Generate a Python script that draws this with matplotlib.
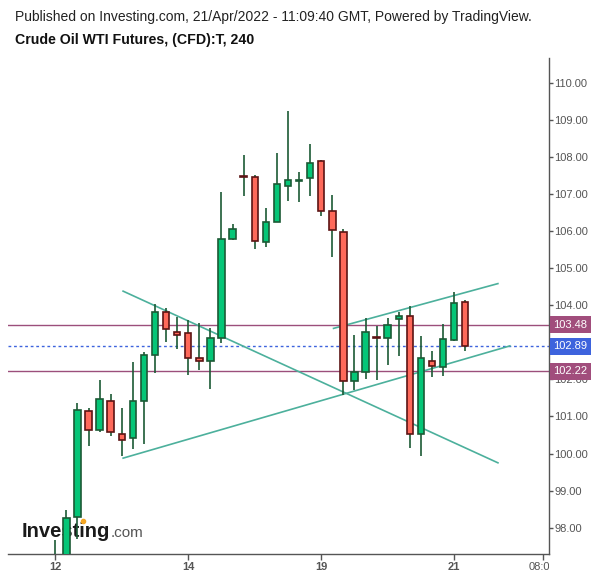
import matplotlib
matplotlib.use("Agg")
import matplotlib.pyplot as plt
from matplotlib.patches import Rectangle
from matplotlib.transforms import Bbox, TransformedBbox, blended_transform_factory

plt.rcParams['font.family'] = ['Liberation Sans', 'DejaVu Sans']

# ---------------- data ----------------
opens  = [97.25, 96.95, 98.28, 101.14, 100.63, 101.41, 100.54, 100.41, 101.43, 102.65,
          103.83, 103.27, 103.24, 102.59, 102.49, 103.11, 105.78, 107.48, 107.45, 105.70,
          106.24, 107.23, 107.36, 107.42, 107.88, 106.53, 105.97, 101.97, 102.19, 103.15,
          103.13, 103.62, 103.70, 100.54, 102.49, 102.34, 103.05, 104.08]
highs  = [97.67, 98.48, 101.35, 101.22, 101.98, 101.60, 101.23, 102.47, 102.73, 104.03,
          103.92, 103.69, 103.60, 103.51, 103.38, 107.05, 106.19, 108.05, 107.51, 106.62,
          108.10, 109.24, 107.59, 108.35, 107.93, 106.97, 106.05, 103.20, 103.65, 103.43,
          103.65, 103.81, 103.97, 103.16, 102.76, 103.49, 104.35, 104.13]
lows   = [96.90, 96.80, 97.69, 100.21, 100.59, 100.48, 99.93, 100.11, 100.25, 102.16,
          103.02, 102.81, 102.13, 102.25, 101.73, 102.97, 105.75, 106.95, 105.51, 105.58,
          106.24, 106.82, 106.79, 106.95, 106.41, 105.31, 101.59, 101.71, 102.02, 101.99,
          102.39, 102.64, 100.16, 99.94, 102.07, 102.10, 103.03, 102.77]
closes = [97.10, 98.25, 101.17, 100.63, 101.46, 100.57, 100.36, 101.41, 102.65, 103.81,
          103.35, 103.21, 102.57, 102.49, 103.13, 105.80, 106.07, 107.46, 105.72, 106.24,
          107.26, 107.39, 107.38, 107.83, 106.53, 106.02, 101.97, 102.19, 103.27, 103.13,
          103.46, 103.70, 100.52, 102.57, 102.37, 103.08, 104.05, 102.89]

level_upper = 103.48
level_lower = 102.22
last_price = 102.89

# trend lines: (x0, p0, x1, p1) in candle index / price
trend_down = (6.05, 104.39, 40.02, 99.74)
trend_up_low = (6.05, 99.87, 41.1, 102.91)
trend_up_high = (25.04, 103.37, 40.02, 104.59)

price_ticks = [98, 99, 100, 101, 102, 103, 104, 105, 106, 107, 108, 109, 110]
date_tick_pos = [0, 12, 24, 36]
date_tick_labels = ["12", "14", "19", "21"]
time_tick_pos = [44]
time_tick_labels = ["08:00"]

# ---------------- styling ----------------
GREEN = '#05c677'
RED = '#fe695a'
GREEN_EDGE = '#1b5a35'
RED_EDGE = '#5c1414'
WICK = '#1b5a35'
LEVEL_C = '#9c4f7b'
LEVEL_BOX = '#a14d7c'
BLUE = '#3d63dd'
TREND = '#4cb09c'
AXC = '#555555'

W, H = 600, 578
fig = plt.figure(figsize=(W / 100, H / 100), dpi=100)
ax = fig.add_axes([8 / W, 24 / H, 541 / W, 496 / H])
ax.set_xlim(-4.27, 44.56)
ax.set_ylim(97.29, 110.67)

for s in ['left', 'top']:
    ax.spines[s].set_visible(False)
for s in ['bottom', 'right']:
    ax.spines[s].set_color(AXC)
    ax.spines[s].set_linewidth(1.0)

# logo (under candles)
ax.text(0.025, 0.035, "Investing", transform=ax.transAxes, fontsize=14.5,
        fontweight='bold', color='#1a1a1a', ha='left', va='baseline', zorder=1)
ax.text(0.189, 0.035, ".com", transform=ax.transAxes, fontsize=11,
        color='#555555', ha='left', va='baseline', zorder=1)
ax.plot([0.138], [0.067], marker='o', ms=3, color='#f5a623', transform=ax.transAxes, zorder=1)

# horizontal levels
ax.axhline(level_upper, color=LEVEL_C, lw=1.0, zorder=2)
ax.axhline(level_lower, color=LEVEL_C, lw=1.0, zorder=2)
ax.axhline(last_price, color=BLUE, lw=1.0, ls=(0, (2, 2)), zorder=2)

# trend lines
for (x0, p0, x1, p1) in [trend_down, trend_up_low, trend_up_high]:
    ax.plot([x0, x1], [p0, p1], color=TREND, lw=1.2, zorder=3, solid_capstyle='butt')

# candles
bw = 0.58
for i, (o, h, l, c) in enumerate(zip(opens, highs, lows, closes)):
    up = c >= o
    ax.plot([i, i], [l, h], color=WICK, lw=1.2, zorder=4, solid_capstyle='butt')
    rect = Rectangle((i - bw / 2, min(o, c)), bw, abs(c - o),
                     facecolor=GREEN if up else RED,
                     edgecolor=GREEN_EDGE if up else RED_EDGE,
                     lw=1.2, zorder=5)
    ax.add_patch(rect)

# y axis on right
ax.yaxis.tick_right()
ax.set_yticks(price_ticks)
ax.set_yticklabels([f"{v:.2f}" for v in price_ticks])
ax.tick_params(axis='y', direction='out', length=3, width=1, color=AXC,
               labelsize=8, labelcolor=AXC, pad=1)

# x axis
ax.set_xticks(date_tick_pos + time_tick_pos)
ax.set_xticklabels(date_tick_labels + [""] * len(time_tick_labels))
ax.tick_params(axis='x', direction='out', length=4, width=1, color=AXC,
               labelsize=8, labelcolor=AXC, pad=1.5)
for t in ax.get_xticklabels():
    t.set_fontweight('bold')

clipbox = TransformedBbox(Bbox([[0, 0], [549 / W, 1]]), fig.transFigure)
for pos, lab in zip(time_tick_pos, time_tick_labels):
    tt = ax.text(pos, -0.017, lab, transform=blended_transform_factory(ax.transData, ax.transAxes),
                 ha='center', va='top', fontsize=8, color=AXC, clip_on=True)
    tt.set_clip_box(clipbox)

# price label boxes
btr = blended_transform_factory(ax.transAxes, ax.transData)
for val, col in [(level_upper, LEVEL_BOX), (last_price, BLUE), (level_lower, LEVEL_BOX)]:
    ax.text(1.008, val, f"{val:.2f}", transform=btr, ha='left', va='center',
            fontsize=8, color='white', zorder=20, clip_on=False,
            bbox=dict(boxstyle='square,pad=0.32', facecolor=col, edgecolor='none'))

# titles
fig.text(15 / W, 1 - 17 / H, "Published on Investing.com, 21/Apr/2022 - 11:09:40 GMT, Powered by TradingView.",
         fontsize=10, color='#222222', ha='left', va='center')
fig.text(15 / W, 1 - 40 / H, "Crude Oil WTI Futures, (CFD):T, 240",
         fontsize=10.2, fontweight='bold', color='#111111', ha='left', va='center')

fig.savefig("out.png", dpi=100, facecolor='white')
